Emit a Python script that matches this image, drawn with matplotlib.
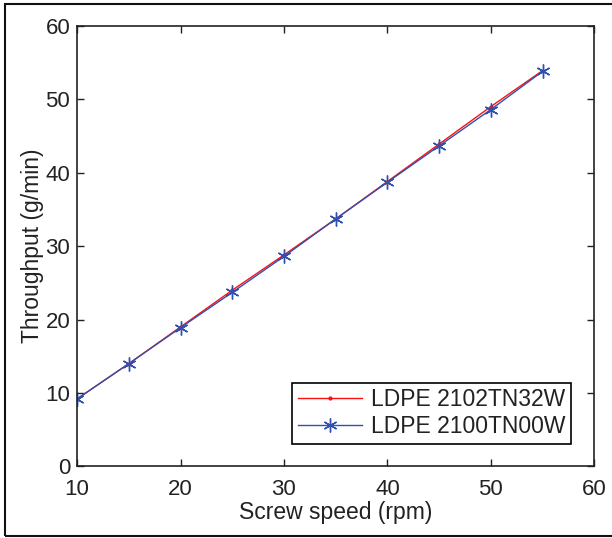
import matplotlib

matplotlib.use("Agg")

import matplotlib.pyplot as plt
from matplotlib.patches import Rectangle

plt.rcParams["font.family"] = ["Liberation Sans", "DejaVu Sans"]

screw_speed = [10, 15, 20, 25, 30, 35, 40, 45, 50, 55]
throughput_32w = [9.2, 14.0, 19.0, 24.0, 28.8, 33.7, 38.8, 43.9, 49.0, 53.9]
throughput_00w = [9.2, 14.0, 18.9, 23.7, 28.6, 33.7, 38.7, 43.65, 48.6, 53.8]

fig = plt.figure(figsize=(6.12, 5.38), dpi=100)
ax = fig.add_axes([0.126, 0.133, 0.845, 0.819])

ax.plot(screw_speed, throughput_32w, color="#ff1010", marker=".", markersize=4,
        linewidth=1.0, label="LDPE 2102TN32W")
ax.plot(screw_speed, throughput_00w, color="#3050b0", marker=(6, 2, 0), markersize=10,
        markeredgewidth=1.0, linewidth=1.0, label="LDPE 2100TN00W")

ax.set_xlim(10, 60)
ax.set_ylim(0, 60)
ax.set_xticks([10, 20, 30, 40, 50, 60])
ax.set_yticks([0, 10, 20, 30, 40, 50, 60])
ax.tick_params(direction="in", top=True, right=True, length=5, width=1,
               labelsize=16, colors="#222222", labelcolor="#222222")
ax.tick_params(axis="x", pad=9)
ax.tick_params(axis="y", pad=5)
for spine in ax.spines.values():
    spine.set_linewidth(1.2)
    spine.set_color("#222222")

ax.set_xlabel("Screw speed (rpm)", fontsize=16.5, labelpad=1, color="#222222")
ax.set_ylabel("Throughput (g/min)", fontsize=16.5, labelpad=1, color="#222222")

leg = ax.legend(loc="lower right", fontsize=16.5, fancybox=False, framealpha=1,
                edgecolor="black", borderaxespad=1.0, handlelength=2.8,
                borderpad=0.25, labelspacing=0.15, handletextpad=0.4)
leg.get_frame().set_linewidth(1.2)
for txt in leg.get_texts():
    txt.set_color("#222222")

# outer figure border (right side runs off the picture)
fig.patches.append(Rectangle((0.008, 0.003), 1.2, 0.99, transform=fig.transFigure,
                             fill=False, edgecolor="#111111", linewidth=1.5))

fig.savefig("out.png", dpi=100)
